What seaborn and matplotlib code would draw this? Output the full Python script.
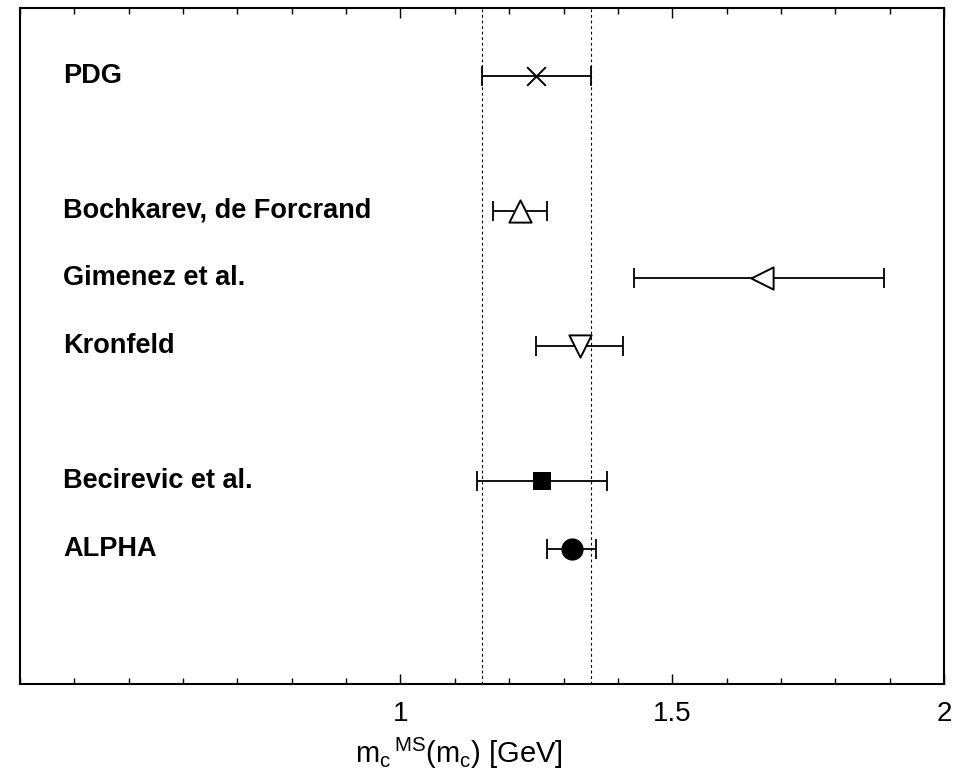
import numpy as np
import pandas as pd
import matplotlib
matplotlib.use("Agg")
import matplotlib.pyplot as plt
import seaborn as sns
from matplotlib.ticker import MultipleLocator, FixedLocator

# Charm quark mass determinations, m_c(m_c) in GeV
labels = ["PDG", "Bochkarev, de Forcrand", "Gimenez et al.", "Kronfeld",
          "Becirevic et al.", "ALPHA"]
rows = [8, 6, 5, 4, 2, 1]
central = [1.25, 1.22, 1.665, 1.33, 1.26, 1.315]
lower = [1.15, 1.17, 1.43, 1.25, 1.14, 1.27]
upper = [1.35, 1.27, 1.89, 1.41, 1.38, 1.36]
pdg_band = [1.15, 1.35]
tick_values = [1.0, 1.5, 2.0]
tick_labels = ["1", "1.5", "2"]

df = pd.DataFrame({"label": labels, "row": rows, "mc": central,
                   "lo": lower, "hi": upper})

sns.set_theme(style="white")
plt.rcParams["font.family"] = ["Liberation Sans", "DejaVu Sans"]
plt.rcParams["text.color"] = "black"
plt.rcParams["axes.labelcolor"] = "black"
plt.rcParams["xtick.color"] = "black"
plt.rcParams["mathtext.fontset"] = "custom"
plt.rcParams["mathtext.rm"] = "Liberation Sans"
plt.rcParams["mathtext.default"] = "rm"

fig = plt.figure(figsize=(9.67, 7.77), dpi=100)
ax = fig.add_axes([20 / 967, 1 - 684 / 777, 924 / 967, 676 / 777])

# PDG range as dotted verticals
for v in pdg_band:
    ax.axvline(v, color="black", lw=0.8, ls=(0, (2.5, 2.5)), zorder=1)

# horizontal error bars
ax.errorbar(df["mc"], df["row"],
            xerr=[df["mc"] - df["lo"], df["hi"] - df["mc"]],
            fmt="none", ecolor="black", elinewidth=1.3, capsize=7,
            capthick=1.3, zorder=2)

marker_styles = {
    "PDG": dict(marker="x", s=13.5 ** 2, color="black", linewidths=1.4),
    "Bochkarev, de Forcrand": dict(marker="^", s=16 ** 2, facecolor="white",
                                   edgecolor="black", linewidths=1.4),
    "Gimenez et al.": dict(marker="<", s=16 ** 2, facecolor="white",
                           edgecolor="black", linewidths=1.4),
    "Kronfeld": dict(marker="v", s=16 ** 2, facecolor="white",
                     edgecolor="black", linewidths=1.4),
    "Becirevic et al.": dict(marker="s", s=13 ** 2, color="black",
                             linewidths=0),
    "ALPHA": dict(marker="o", s=16 ** 2, color="black", linewidths=0),
}
for _, r in df.iterrows():
    sns.scatterplot(x=[r["mc"]], y=[r["row"]], ax=ax, zorder=3,
                    legend=False, **marker_styles[r["label"]])

for _, r in df.iterrows():
    ax.text(0.38, r["row"], r["label"], fontsize=19.5, fontweight="bold",
            ha="left", va="center", color="black")

ax.set_xlim(0.3, 2.0)
ax.set_ylim(-1, 9)
ax.set_yticks([])
ax.xaxis.set_major_locator(FixedLocator(tick_values))
ax.set_xticklabels(tick_labels, fontsize=20, color="black")
ax.xaxis.set_minor_locator(MultipleLocator(0.1))
ax.tick_params(axis="x", which="major", direction="in", length=7, width=1,
               top=True, bottom=True, pad=12, colors="black")
ax.tick_params(axis="x", which="minor", direction="in", length=4, width=1,
               top=True, bottom=True, colors="black")
for sp in ax.spines.values():
    sp.set_visible(True)
    sp.set_color("black")
    sp.set_linewidth(1.5)

ax.set_xlabel(r"m$_{\mathrm{c}}{}^{\,\mathrm{MS}}$(m$_{\mathrm{c}}$) [GeV]",
              fontsize=21, color="black")
ax.xaxis.set_label_coords(0.475, -0.076)
ax.set_ylabel("")

fig.savefig("out.png", dpi=100, facecolor="white")
